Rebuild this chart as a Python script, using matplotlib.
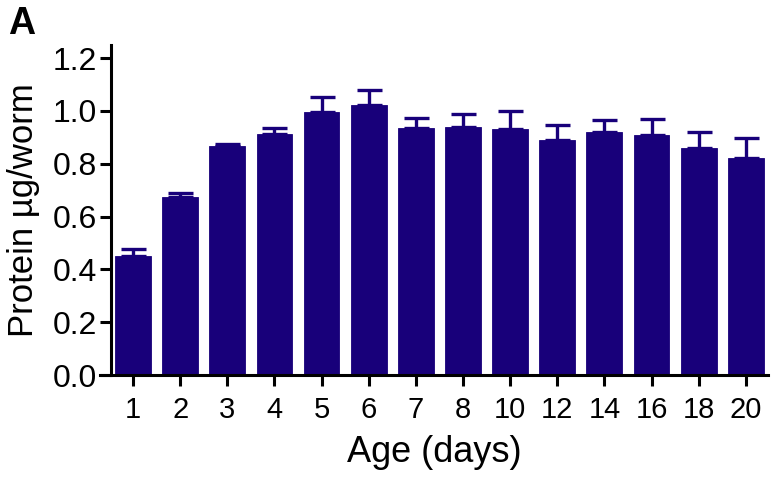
import matplotlib
matplotlib.use("Agg")
import matplotlib.pyplot as plt
import numpy as np

# protein per worm by age
ages = ["1", "2", "3", "4", "5", "6", "7", "8", "10", "12", "14", "16", "18", "20"]
protein = [0.452, 0.675, 0.868, 0.914, 0.995, 1.022, 0.936, 0.941, 0.931, 0.889, 0.919, 0.909, 0.861, 0.821]
sem = [0.026, 0.015, 0.005, 0.022, 0.057, 0.058, 0.039, 0.049, 0.070, 0.058, 0.048, 0.059, 0.059, 0.076]
yticks = [0.0, 0.2, 0.4, 0.6, 0.8, 1.0, 1.2]

bar_color = "#18007a"

plt.rcParams['font.family'] = ['Liberation Sans', 'DejaVu Sans']

fig = plt.figure(figsize=(7.74, 4.84), dpi=100)
ax = fig.add_axes([0.1292, 0.2252, 0.8630, 0.682])

x = np.arange(len(ages))
ax.bar(x, protein, width=0.76, color=bar_color, edgecolor=bar_color, linewidth=0.6, zorder=2)
ax.errorbar(x, protein, yerr=[np.zeros(len(sem)), sem], fmt='none', ecolor=bar_color,
            elinewidth=2.4, capsize=9, capthick=2.4, zorder=3)

# x axis runs a little past the y axis on the left
ax.set_xlim(-0.70, len(ages) - 0.53)
ax.spines['left'].set_position(('data', -0.47))
ax.set_ylim(0, 1.25)
ax.set_xticks(x)
ax.set_xticklabels(ages)
ax.set_yticks(yticks)
ax.set_yticklabels(["%.1f" % v for v in yticks])

for side in ['top', 'right']:
    ax.spines[side].set_visible(False)
for side in ['left', 'bottom']:
    ax.spines[side].set_linewidth(2.2)

ax.tick_params(axis='y', labelsize=23, width=2.2, length=8, pad=2)
ax.tick_params(axis='x', labelsize=21, width=2.2, length=8, pad=7)

ax.set_ylabel("Protein µg/worm", fontsize=25, labelpad=9)
ax.set_xlabel("Age (days)", fontsize=26, labelpad=8)

fig.text(0.010, 0.930, "A", fontsize=27, fontweight='bold')

fig.savefig("out.png", dpi=100)
